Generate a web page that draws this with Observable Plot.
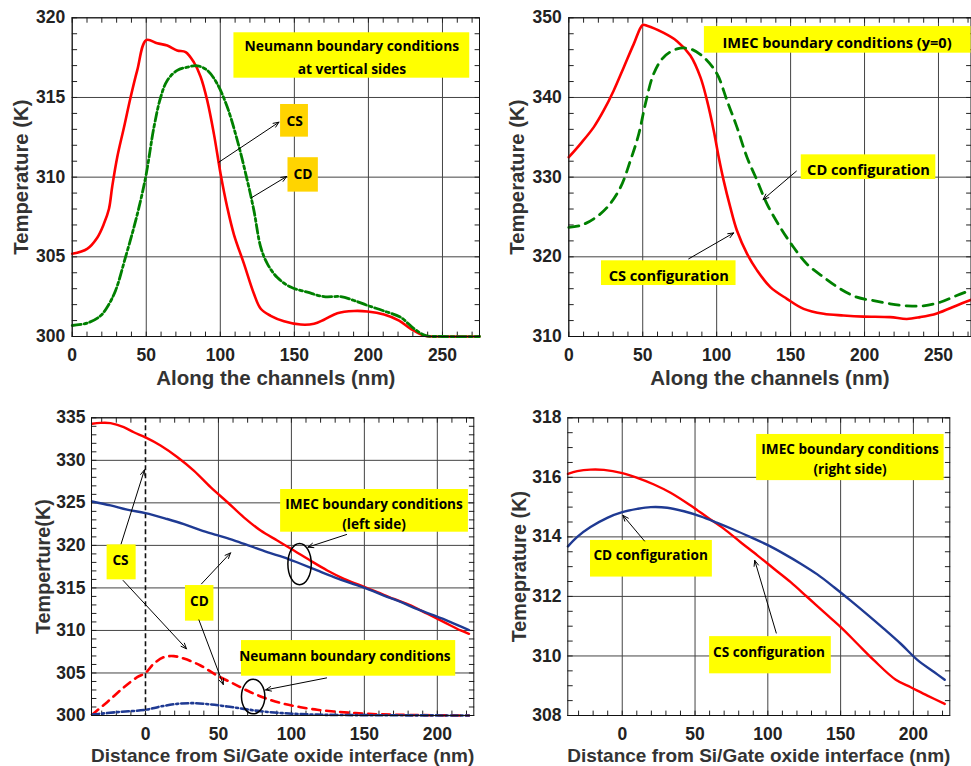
<!DOCTYPE html>
<html><head><meta charset="utf-8">
<script src="https://cdn.jsdelivr.net/npm/d3@7"></script>
<script src="https://cdn.jsdelivr.net/npm/@observablehq/plot@0.6"></script>
<style>
body{margin:0;background:#fff;}
#chart{position:relative;width:971px;height:766px;overflow:hidden;background:#fff;}
.panel{position:absolute;overflow:hidden;}
.panel svg{display:block;}
</style></head><body><div id="chart"></div>
<script>
// ---------- Panel 1: Neumann boundary conditions, along the channel ----------
const p1XTicks = [0, 50, 100, 150, 200, 250];
const p1YTicks = [300, 305, 310, 315, 320];
const p1CS = [[0,305.19],[10.1,305.5],[16.9,306.2],[21.4,307.07],[24.8,308.0],[27,309.4],[30.4,311.25],[34.9,313.1],[39.4,315.0],[43.9,316.7],[50,318.6],[57.4,318.4],[64.2,318.26],[70.9,317.95],[76.6,317.85],[82.2,317.2],[86.7,316.3],[91.2,314.8],[95.7,312.7],[100.2,310.2],[104.7,308.1],[109.2,306.4],[116,304.56],[122.7,302.68],[127.3,301.74],[134,301.3],[143,300.96],[154.3,300.75],[163.3,300.8],[170,301.05],[179,301.46],[190.3,301.6],[199.3,301.57],[210.6,301.38],[220.7,301.0],[228.6,300.48],[237.6,300.06],[250,300],[275,300]];
const p1CD = [[0,300.69],[10.1,300.84],[19.1,301.3],[23.6,301.84],[29.3,302.89],[36,304.98],[41.7,306.86],[46.2,308.54],[50,310.2],[55.2,313.14],[59.7,315.0],[64.2,316.07],[70.9,316.7],[77.7,316.9],[84.5,316.99],[91.2,316.7],[97.9,315.86],[104.7,314.4],[111.5,312.3],[118.2,309.8],[122.7,307.9],[127.3,305.6],[131.8,304.56],[138.5,303.7],[147.5,303.1],[158.8,302.78],[170,302.5],[181.3,302.5],[190.3,302.26],[199.3,301.95],[210.6,301.6],[221.8,301.2],[230.9,300.48],[238.7,300.06],[250,300],[275,300]];
const p1Boxes = [
  {x1:109.2, x2:268.4, y1:316.21, y2:319.06, fill:"#FFFF00"},
  {x1:140.7, x2:159.5, y1:312.51, y2:314.56, fill:"#FFD400"},
  {x1:145.7, x2:166.2, y1:309.06, y2:311.22, fill:"#FFD400"}
];
const p1Texts = [
  {x:188.8, y:317.64, text:"Neumann boundary conditions\nat vertical sides", style:"normal"},
  {x:150.2, y:313.67, text:"CS", style:"italic"},
  {x:155.8, y:310.31, text:"CD", style:"italic"}
];
const p1Arrows = [
  {x1:99.05, y1:310.94, x2:139.6, y2:313.45},
  {x1:120.9, y1:308.7, x2:144.8, y2:310.04}
];

// ---------- Panel 2: IMEC boundary conditions (y=0), along the channel ----------
const p2XTicks = [0, 50, 100, 150, 200, 250];
const p2YTicks = [310, 320, 330, 340, 350];
const p2CS = [[0,332.5],[7.9,334.18],[16.9,336.28],[23.6,338.37],[30.4,340.88],[37.2,343.8],[43.9,346.7],[50,349.1],[52.9,349.0],[64.2,348.1],[73.2,347.07],[82.2,345.27],[89,342.55],[93.5,339.6],[98,335.86],[101.4,332.5],[104.7,329.6],[109.2,326.23],[113.7,323.3],[120.5,320.4],[127.3,318.3],[136.3,316.2],[147.5,314.73],[158.8,313.47],[172.3,312.85],[185.8,312.64],[199.3,312.5],[217.3,312.43],[228.6,312.2],[237.6,312.43],[248.9,312.9],[262.4,313.9],[271.8,314.6]];
const p2CD = [[0,323.7],[7.9,323.93],[16.9,324.77],[25.9,326.2],[34.9,328.7],[41.7,332.1],[47.3,335.4],[51.8,339.2],[57.4,342.97],[64.2,345.06],[73.2,346.1],[82.2,346.1],[91.2,345.06],[100.2,342.97],[107,339.6],[113.7,336.28],[120.5,332.5],[127.3,329.6],[134,326.65],[143,323.7],[152,321.2],[161,319.1],[172.3,317.45],[183.6,315.98],[194.8,314.94],[206.1,314.5],[217.3,314.1],[228.6,313.85],[239.9,313.85],[251.1,314.3],[262.4,315.15],[271.8,315.8]];
const p2Boxes = [
  {x1:91.7, x2:272, y1:345.56, y2:348.9, fill:"#FFFF00"},
  {x1:157.2, x2:248.2, y1:329.7, y2:332.8, fill:"#FFFF00"},
  {x1:22.1, x2:113.1, y1:316.4, y2:319.5, fill:"#FFFF00"}
];
const p2Texts = [
  {x:181.4, y:347.1, text:"IMEC boundary conditions (y=0)", style:"normal"},
  {x:202.7, y:331.1, text:"CD configuration", style:"normal"},
  {x:67.6, y:317.8, text:"CS configuration", style:"normal"}
];
const p2Arrows = [
  {x1:153.9, y1:330.75, x2:131.4, y2:327.2},
  {x1:81.1, y1:319.75, x2:111.5, y2:323.0}
];

// ---------- Panel 3: left side, distance from Si/Gate oxide interface ----------
const p3XTicks = [0, 50, 100, 150, 200];
const p3YTicks = [300, 305, 310, 315, 320, 325, 330, 335];
const p3CSimec = [[-36.6,334.3],[-30.9,334.4],[-24,334.37],[-14.9,333.9],[-8,333.3],[0,332.7],[10.3,331.75],[21.7,330.4],[33.1,328.8],[44.6,326.85],[56,325.1],[67.4,323.3],[78.9,321.75],[90.3,320.57],[101.7,319.4],[113.1,318.2],[124.6,317.05],[136,316.07],[147.4,315.3],[158.9,314.5],[170.3,313.7],[181.7,312.94],[193.1,311.96],[204.6,310.98],[216,310.0],[221.7,309.6]];
const p3CDimec = [[-36.6,325.16],[-24,324.7],[-12.6,324.2],[0,323.8],[14.9,323.1],[26.3,322.5],[37.7,321.8],[49.1,321.2],[60.6,320.6],[72,319.9],[83.4,319.2],[94.9,318.6],[106.3,317.84],[117.7,317.05],[129.1,316.27],[140.6,315.56],[152,314.9],[163.4,314.1],[174.9,313.35],[186.3,312.5],[197.7,311.76],[209.1,310.98],[221.7,310.05]];
const p3CSneu = [[-36.6,300.1],[-26.3,301.57],[-14.9,303.3],[-5.7,304.5],[0,305.0],[5.7,306.1],[12.6,306.86],[19.4,306.98],[26.3,306.7],[37.7,305.88],[49.1,304.7],[60.6,303.72],[72,302.74],[83.4,301.96],[94.9,301.37],[106.3,300.98],[117.7,300.67],[129.1,300.47],[152,300.2],[174.9,300.08],[221.7,300]];
const p3CDneu = [[-36.6,300.1],[-19.4,300.4],[0,300.67],[10.3,301.06],[21.7,301.37],[33.1,301.45],[44.6,301.3],[56,301.06],[67.4,300.78],[78.9,300.5],[94.9,300.27],[117.7,300.1],[152,300.04],[221.7,300]];
const p3Boxes = [
  {x1:92.6, x2:221.3, y1:321.55, y2:326.57, fill:"#FFFF00"},
  {x1:-26.3, x2:-6.4, y1:315.95, y2:320.06, fill:"#FFFF00"},
  {x1:27.4, x2:46.9, y1:311.09, y2:315.28, fill:"#FFFF00"},
  {x1:65.8, x2:212.6, y1:304.62, y2:308.81, fill:"#FFFF00"}
];
const p3Texts = [
  {x:156.6, y:323.9, text:"IMEC boundary conditions\n(left side)", style:"normal"},
  {x:-17.1, y:318.5, text:"CS", style:"italic"},
  {x:37.0, y:313.64, text:"CD", style:"italic"},
  {x:136.7, y:307.13, text:"Neumann boundary conditions", style:"normal"}
];
const p3Arrows = [
  {x1:-16.7, y1:320.18, x2:-0.7, y2:328.88},
  {x1:-15.3, y1:315.87, x2:28.1, y2:307.84},
  {x1:38.4, y1:315.48, x2:58.3, y2:319.12},
  {x1:36.6, y1:311.24, x2:53.3, y2:303.64},
  {x1:137.8, y1:321.28, x2:111.3, y2:319.79},
  {x1:124.1, y1:304.42, x2:82.3, y2:303.01}
];
const p3Ellipses = [
  {x:105.6, y:317.8, rx:11.7, ry:20.7},
  {x:73.8, y:302.23, rx:11.7, ry:17.3}
];
const p3Marker = [0];

// ---------- Panel 4: right side, distance from Si/Gate oxide interface ----------
const p4XTicks = [0, 50, 100, 150, 200];
const p4YTicks = [308, 310, 312, 314, 316, 318];
const p4CS = [[-37.3,316.12],[-30.9,316.21],[-21.8,316.26],[-12.6,316.25],[0,316.14],[10.3,315.98],[21.8,315.76],[33.2,315.48],[47,315.05],[58.4,314.66],[69.9,314.27],[81.3,313.82],[92.8,313.38],[104.2,312.93],[115.7,312.48],[127.1,311.98],[138.6,311.47],[150.1,310.97],[161.5,310.41],[173,309.85],[187.9,309.2],[198.2,308.95],[209.6,308.67],[221.5,308.39]];
const p4CD = [[-37.3,313.68],[-30.9,314.0],[-21.8,314.33],[-10.3,314.64],[0,314.83],[10.3,314.94],[19.5,315.0],[30.9,314.98],[42.4,314.86],[53.8,314.69],[65.3,314.47],[76.7,314.24],[88.2,313.99],[99.7,313.73],[111.1,313.43],[122.6,313.1],[134,312.74],[145.5,312.31],[156.9,311.86],[168.4,311.39],[179.8,310.91],[191.3,310.41],[202.7,309.87],[214.2,309.46],[221.5,309.2]];
const p4Boxes = [
  {x1:92.3, x2:221.1, y1:315.89, y2:317.44, fill:"#FFFF00"},
  {x1:-21.8, x2:61.9, y1:312.65, y2:313.88, fill:"#FFFF00"},
  {x1:60, x2:143.6, y1:309.4, y2:310.65, fill:"#FFFF00"}
];
const p4Texts = [
  {x:156.5, y:316.66, text:"IMEC boundary conditions\n(right side)", style:"normal"},
  {x:19.5, y:313.43, text:"CD configuration", style:"normal"},
  {x:100.8, y:310.18, text:"CS configuration", style:"normal"}
];
const p4Arrows = [
  {x1:15.3, y1:313.86, x2:0.5, y2:314.72},
  {x1:105.8, y1:310.77, x2:91, y2:313.21}
];

// ---------- styles ----------
const RED = "#FF0000", GREEN = "#008000", BLUE = "#1f3a93";
const AXIS_FONT = "Liberation Sans, Arial, Helvetica, sans-serif";
const NOTE_FONT = "Open Sans, DejaVu Sans, sans-serif";

function ellipseSymbol(rx, ry) {
  const k = 0.5523;
  return {draw(c) {
    c.moveTo(rx, 0);
    c.bezierCurveTo(rx, ry * k, rx * k, ry, 0, ry);
    c.bezierCurveTo(-rx * k, ry, -rx, ry * k, -rx, 0);
    c.bezierCurveTo(-rx, -ry * k, -rx * k, -ry, 0, -ry);
    c.bezierCurveTo(rx * k, -ry, rx, -ry * k, rx, 0);
    c.closePath();
  }};
}
const tickShape = {draw(c, l) { c.moveTo(0, 0); c.lineTo(0, -l); }};

function minorTicks(cfg) {
  const o = {length: 4.5, anchor: "start", shape: tickShape, stroke: "#222", strokeWidth: 1};
  return [
    Plot.vector(cfg.xMinor, {...o, x: d => d, frameAnchor: "bottom", rotate: 0}),
    Plot.vector(cfg.xMinor, {...o, x: d => d, frameAnchor: "top", rotate: 180}),
    Plot.vector(cfg.yMinor, {...o, y: d => d, frameAnchor: "left", rotate: 90}),
    Plot.vector(cfg.yMinor, {...o, y: d => d, frameAnchor: "right", rotate: -90})
  ];
}

function panel(cfg) {
  const marks = [
    Plot.gridX({ticks: cfg.xGrid || cfg.xTicks, stroke: "#444", strokeOpacity: 1, strokeWidth: 1}),
    Plot.gridY({ticks: cfg.yTicks, stroke: "#444", strokeOpacity: 1, strokeWidth: 1}),
    ...minorTicks(cfg),
    Plot.axisX({ticks: cfg.xTicks, anchor: "bottom", tickSize: 0, tickPadding: cfg.xPad, label: null,
      fontSize: 17.5, fontWeight: "bold", fill: "#222", tickFormat: d => String(d)}),
    Plot.axisY({ticks: cfg.yTicks, anchor: "left", tickSize: 0, tickPadding: cfg.yPad, label: null,
      fontSize: 17.5, fontWeight: "bold", fill: "#222", tickFormat: d => String(d)}),
  ];
  if (cfg.vline) marks.push(Plot.ruleX(cfg.vline, {stroke: "#111", strokeWidth: 1.6, strokeDasharray: "5,3"}));
  for (const s of cfg.series) {
    marks.push(Plot.line(s.data, {x: d => d[0], y: d => d[1], stroke: s.stroke, strokeWidth: s.width,
      strokeDasharray: s.dash, curve: "catmull-rom"}));
  }
  marks.push(Plot.frame({stroke: "#111", strokeWidth: 1}));
  marks.push(Plot.rect(cfg.boxes, {x1: "x1", x2: "x2", y1: "y1", y2: "y2", fill: "fill"}));
  marks.push(Plot.text(cfg.texts, {x: "x", y: "y", text: "text", fontStyle: "style",
    fontFamily: NOTE_FONT, fontWeight: "bold", fontSize: cfg.noteSize, fill: "#000",
    lineHeight: cfg.noteLH || 1.5}));
  marks.push(Plot.arrow(cfg.arrows, {x1: "x1", y1: "y1", x2: "x2", y2: "y2", stroke: "#000",
    strokeWidth: 1, headLength: 9, headAngle: 45}));
  if (cfg.ellipses) {
    for (const e of cfg.ellipses) {
      marks.push(Plot.dot([e], {x: "x", y: "y", symbol: ellipseSymbol(e.rx, e.ry), stroke: "#000",
        strokeWidth: 1.5, fill: "none", r: 5}));
    }
  }
  marks.push(Plot.text([cfg.xLabel], {text: d => d, frameAnchor: "bottom", textAnchor: "middle", lineAnchor: "bottom",
    dy: cfg.xLabelDy, fontSize: cfg.xLabelSize, fontWeight: "bold", fill: "#333", fontFamily: AXIS_FONT}));
  marks.push(Plot.text([cfg.yLabel], {text: d => d, frameAnchor: "left", textAnchor: "middle", lineAnchor: "middle",
    rotate: -90, dx: cfg.yLabelDx, fontSize: cfg.yLabelSize, fontWeight: "bold", fill: "#333", fontFamily: AXIS_FONT}));

  return Plot.plot({
    width: cfg.width, height: cfg.height,
    marginLeft: cfg.ml, marginRight: cfg.mr, marginTop: cfg.mt, marginBottom: cfg.mb,
    style: {fontFamily: AXIS_FONT, background: "#fff", overflow: "hidden"},
    x: {domain: cfg.xDomain}, y: {domain: cfg.yDomain},
    marks
  });
}

const panels = [
  {left: 0, top: 0, width: 490, height: 390, ml: 71.7, mr: 11, mt: 17.3, mb: 54,
   xDomain: [0, 275], yDomain: [300, 320], xTicks: p1XTicks, yTicks: p1YTicks,
   xMinor: d3.range(0, 276, 10), yMinor: d3.range(300, 320.5, 1), xPad: 12, yPad: 7,
   xLabel: "Along the channels (nm)", yLabel: "Temperature (K)", xLabelDy: 48.5, yLabelDx: -51,
   xLabelSize: 20.5, yLabelSize: 20.3, noteSize: 13.8, noteLH: 1.6,
   series: [
     {data: p1CS, stroke: RED, width: 2.6},
     {data: p1CD, stroke: GREEN, width: 2.8, dash: "9,3,3,3"}
   ],
   boxes: p1Boxes, texts: p1Texts, arrows: p1Arrows},
  {left: 490, top: 0, width: 481, height: 390, ml: 78.3, mr: 0.5, mt: 17.3, mb: 54,
   xDomain: [0, 272], yDomain: [310, 350], xTicks: p2XTicks, yTicks: p2YTicks,
   xMinor: d3.range(0, 273, 10), yMinor: d3.range(310, 350.5, 2), xPad: 12, yPad: 7,
   xLabel: "Along the channels (nm)", yLabel: "Temperature (K)", xLabelDy: 48.5, yLabelDx: -51.6,
   xLabelSize: 20.5, yLabelSize: 20.3, noteSize: 14.6,
   series: [
     {data: p2CS, stroke: RED, width: 2.6},
     {data: p2CD, stroke: GREEN, width: 2.8, dash: "10,7"}
   ],
   boxes: p2Boxes, texts: p2Texts, arrows: p2Arrows},
  {left: 0, top: 390, width: 490, height: 376, ml: 91, mr: 16.7, mt: 27.3, mb: 51,
   xDomain: [-37, 225], yDomain: [300, 335], xTicks: p3XTicks, xGrid: [50, 100, 150, 200], yTicks: p3YTicks,
   xMinor: d3.range(-30, 225, 10), yMinor: d3.range(300, 335.5, 1), xPad: 11.7, yPad: 6,
   xLabel: "Distance from Si/Gate oxide interface (nm)", yLabel: "Temperture(K)", xLabelDy: 46, yLabelDx: -48,
   xLabelSize: 19, yLabelSize: 19.8, noteSize: 13.6, noteLH: 1.5,
   vline: p3Marker,
   series: [
     {data: p3CSimec, stroke: RED, width: 2.4},
     {data: p3CDimec, stroke: BLUE, width: 2.4},
     {data: p3CSneu, stroke: RED, width: 2.6, dash: "8,6"},
     {data: p3CDneu, stroke: BLUE, width: 2.6, dash: "7,3,2,3"}
   ],
   boxes: p3Boxes, texts: p3Texts, arrows: p3Arrows, ellipses: p3Ellipses},
  {left: 490, top: 390, width: 481, height: 376, ml: 77.3, mr: 21.7, mt: 27.3, mb: 51,
   xDomain: [-37.4, 225], yDomain: [308, 318], xTicks: p4XTicks, yTicks: p4YTicks,
   xMinor: d3.range(-30, 225, 10), yMinor: d3.range(308, 318.1, 0.5), xPad: 11.7, yPad: 6.3,
   xLabel: "Distance from Si/Gate oxide interface (nm)", yLabel: "Temeprature (K)", xLabelDy: 46, yLabelDx: -48,
   xLabelSize: 19, yLabelSize: 19.8, noteSize: 13.6, noteLH: 1.5,
   series: [
     {data: p4CS, stroke: RED, width: 2.4},
     {data: p4CD, stroke: BLUE, width: 2.4}
   ],
   boxes: p4Boxes, texts: p4Texts, arrows: p4Arrows}
];

const chart = document.getElementById("chart");
for (const cfg of panels) {
  const div = document.createElement("div");
  div.className = "panel";
  div.style.left = cfg.left + "px";
  div.style.top = cfg.top + "px";
  div.style.width = cfg.width + "px";
  div.style.height = cfg.height + "px";
  div.appendChild(panel(cfg));
  chart.appendChild(div);
}
</script>
</body></html>
